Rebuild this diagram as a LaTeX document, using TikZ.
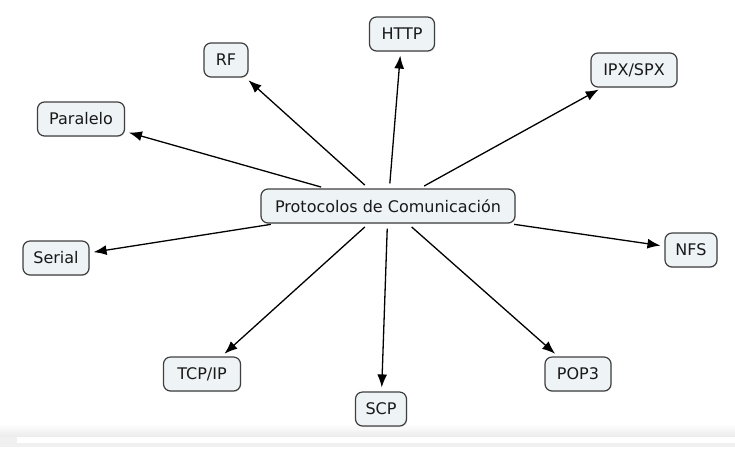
\documentclass[tikz,border=0pt]{standalone}
\usepackage{fontspec}
\setmainfont{DejaVu Sans}
\usetikzlibrary{arrows.meta,shadows}
\definecolor{boxfill}{HTML}{EEF3F6}
\definecolor{boxline}{HTML}{3F3F3F}
\begin{document}
\begin{tikzpicture}[x=1pt,y=-1pt,
  concept/.style={draw=boxline, line width=1.2pt, fill=boxfill, rounded corners=7pt,
    minimum height=34pt, inner xsep=6pt, inner ysep=0pt,
    font=\fontsize{16}{19}\selectfont, text=black!90,
    drop shadow={shadow xshift=0.8pt, shadow yshift=-1pt, opacity=0.15}},
  link/.style={draw=black, line width=1.3pt, -{Latex[length=13pt,width=10pt]},
    shorten <=5pt, shorten >=4pt}]
\useasboundingbox (0,0) rectangle (735,459);
\shade[top color=white, bottom color=black!8] (0,424) rectangle (735,437);
\fill[black!6] (0,437) rectangle (735,447);
\fill[white] (17,437) rectangle (735,443);
\node[concept, minimum width=254pt] (c) at (388,206) {Protocolos de Comunicación};
\node[concept, minimum width=65pt] (http) at (402,34) {HTTP};
\node[concept, minimum width=44pt] (rf) at (226,60) {RF};
\node[concept, minimum width=87pt] (par) at (81,119) {Paralelo};
\node[concept, minimum width=86pt] (ipx) at (634,70) {IPX/SPX};
\node[concept, minimum width=66pt] (ser) at (56,258) {Serial};
\node[concept, minimum width=52pt] (nfs) at (691,250) {NFS};
\node[concept, minimum width=77pt] (tcp) at (202,374) {TCP/IP};
\node[concept, minimum width=51pt] (scp) at (381,409) {SCP};
\node[concept, minimum width=66pt] (pop) at (578,374) {POP3};
\foreach \t in {http,rf,par,ipx,ser,nfs,tcp,scp,pop}
  \draw[link] (c) -- (\t);
\end{tikzpicture}
\end{document}
